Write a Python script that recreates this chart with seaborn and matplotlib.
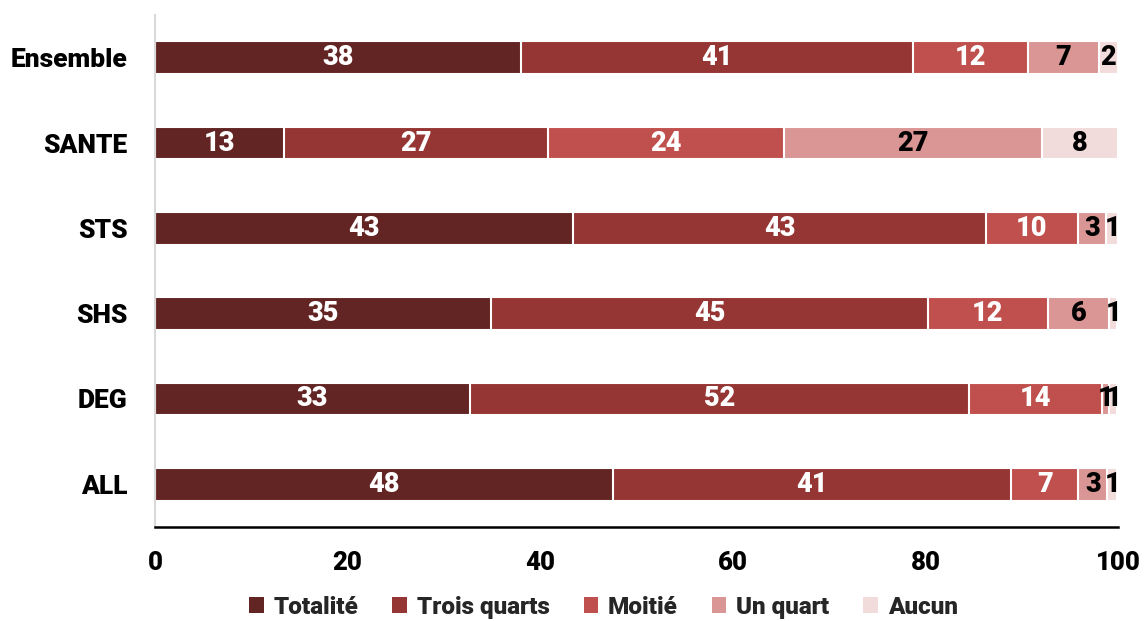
import matplotlib
matplotlib.use("Agg")
import matplotlib.pyplot as plt
import pandas as pd
import seaborn as sns
from matplotlib.patches import Patch

# Data (percent of respondents per category)
categories = ["Ensemble", "SANTE", "STS", "SHS", "DEG", "ALL"]
series = ["Totalité", "Trois quarts", "Moitié", "Un quart", "Aucun"]
totalite = [38.0, 13.4, 43.4, 34.9, 32.7, 47.6]
trois_quarts = [40.7, 27.4, 42.9, 45.4, 51.8, 41.3]
moitie = [12.0, 24.5, 9.5, 12.4, 13.8, 7.0]
un_quart = [7.3, 26.8, 3.0, 6.4, 0.8, 3.0]
aucun = [2.0, 7.9, 1.2, 0.8, 0.8, 1.0]

colors = ["#632523", "#963634", "#c0504d", "#d99694", "#f2dcdb"]
text_colors = ["white", "white", "white", "black", "black"]

sns.set_theme(style="white")
plt.rcParams["font.family"] = ["Roboto", "DejaVu Sans"]

df = pd.DataFrame({"cat": categories, "Totalité": totalite, "Trois quarts": trois_quarts,
                   "Moitié": moitie, "Un quart": un_quart, "Aucun": aucun})
cum = df[series].cumsum(axis=1)

fig = plt.figure(figsize=(11.45, 6.21), dpi=100)
ax = fig.add_axes([0.1354, 0.1514, 0.8410, 0.8244])

# draw cumulative bars back to front so each segment is visible
for i in reversed(range(len(series))):
    sns.barplot(x=cum[series[i]], y=df["cat"], color=colors[i], orient="h",
                width=0.38, edgecolor="white", linewidth=1.5, ax=ax,
                saturation=1)

for j in range(len(categories)):
    left = 0
    for i, s in enumerate(series):
        v = df.loc[j, s]
        ax.text(left + v / 2, j, f"{round(v):d}", ha="center", va="center",
                color=text_colors[i], fontsize=19.5, fontweight="black")
        left += v

ax.set_xlim(0, 100)
ax.set_ylim(5.5, -0.5)
ax.set_xticks([0, 20, 40, 60, 80, 100])
ax.set_xlabel("")
ax.set_ylabel("")
for sp in ["top", "right"]:
    ax.spines[sp].set_visible(False)
ax.spines["left"].set_color("#d9d9d9")
ax.spines["left"].set_linewidth(1.5)
ax.spines["bottom"].set_color("black")
ax.spines["bottom"].set_linewidth(1.8)
ax.tick_params(axis="x", length=7, width=1.5, color="black", pad=10,
               labelsize=18.5)
ax.tick_params(axis="y", length=0, pad=20, labelsize=19)
for lab in ax.get_xticklabels() + ax.get_yticklabels():
    lab.set_fontweight("black")
    lab.set_color("black")

handles = [Patch(facecolor=c, edgecolor="none") for c in colors]
fig.legend(handles, series, loc="center", bbox_to_anchor=(0.527, 0.0225),
           ncol=5, frameon=False, handlelength=0.6, handleheight=0.6,
           handletextpad=0.4, columnspacing=1.4,
           prop={"weight": "black", "size": 17.5})

fig.savefig("out.png", dpi=100)
